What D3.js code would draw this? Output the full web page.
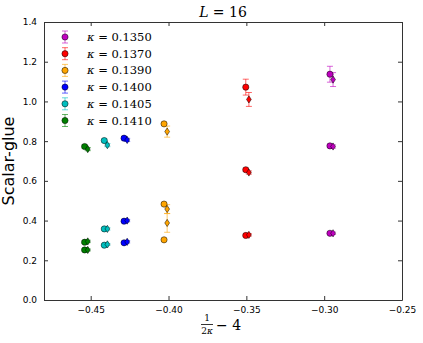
<!DOCTYPE html>
<html>
<head>
<meta charset="utf-8">
<script src="https://cdn.jsdelivr.net/npm/d3@7"></script>
<style>
  body { margin: 0; background: #fff; }
  svg { display: block; }
  text { font-family: "DejaVu Sans", sans-serif; }
  text.math, .math text { font-family: "DejaVu Serif", "Liberation Serif", serif; }
</style>
</head>
<body>
<div id="chart"></div>
<script>
// kappa values and their colours
const kappas = [0.1350, 0.1370, 0.1390, 0.1400, 0.1405, 0.1410];
const colors = ["#bf00bf", "#ff0000", "#ffa500", "#0000ff", "#00bfbf", "#008000"];

// circle series (one list per kappa) and its errors
const circleVals = [
    [1.137, 0.776, 0.336],
    [1.072, 0.656, 0.325],
    [0.887, 0.483, 0.303],
    [0.815, 0.397, 0.288],
    [0.803, 0.358, 0.276],
    [0.773, 0.291, 0.252],
];
const circleErrs = [
    [0.040, 0.008, 0.006],
    [0.040, 0.008, 0.006],
    [0.008, 0.008, 0.005],
    [0.008, 0.006, 0.006],
    [0.008, 0.006, 0.005],
    [0.008, 0.006, 0.005],
];

// diamond series, drawn slightly to the right
const diamondVals = [
    [1.110, 0.773, 0.336],
    [1.010, 0.642, 0.328],
    [0.848, 0.458, 0.388],
    [0.806, 0.400, 0.293],
    [0.780, 0.358, 0.280],
    [0.760, 0.295, 0.252],
];
const diamondErrs = [
    [0.035, 0.008, 0.006],
    [0.035, 0.008, 0.006],
    [0.028, 0.022, 0.047],
    [0.008, 0.006, 0.006],
    [0.008, 0.006, 0.005],
    [0.008, 0.006, 0.005],
];
const diamondShift = 0.002;

const xTicks = [-0.45, -0.40, -0.35, -0.30, -0.25];
const yTicks = [0.0, 0.2, 0.4, 0.6, 0.8, 1.0, 1.2, 1.4];

const W = 423, H = 343;
const margin = { left: 44, right: 21, top: 22, bottom: 43 };

const svg = d3.select("#chart").append("svg").attr("width", W).attr("height", H);

const x = d3.scaleLinear().domain([-0.48, -0.25]).range([margin.left, W - margin.right]);
const y = d3.scaleLinear().domain([0, 1.4]).range([H - margin.bottom, margin.top]);

const xOf = (k) => 1 / (2 * k) - 4;
const fmt = (d) => (d < 0 ? "\u2212" : "") + Math.abs(d).toFixed(2);

// axes, matplotlib classic: ticks inside on all four sides
const axisColor = "#333";
const bottomAxis = svg.append("g").attr("transform", `translate(0,${H - margin.bottom})`)
    .call(d3.axisBottom(x).tickValues(xTicks).tickSizeInner(-4).tickSizeOuter(0).tickPadding(7).tickFormat(fmt));
const topAxis = svg.append("g").attr("transform", `translate(0,${margin.top})`)
    .call(d3.axisTop(x).tickValues(xTicks).tickSizeInner(-4).tickSizeOuter(0).tickFormat(""));
const leftAxis = svg.append("g").attr("transform", `translate(${margin.left},0)`)
    .call(d3.axisLeft(y).tickValues(yTicks).tickSizeInner(-4).tickSizeOuter(0).tickPadding(7).tickFormat(d3.format(".1f")));
const rightAxis = svg.append("g").attr("transform", `translate(${W - margin.right},0)`)
    .call(d3.axisRight(y).tickValues(yTicks).tickSizeInner(-4).tickSizeOuter(0).tickFormat(""));

[bottomAxis, topAxis, leftAxis, rightAxis].forEach((g) => {
    g.select(".domain").attr("stroke", axisColor).attr("stroke-width", 1);
    g.selectAll(".tick line").attr("stroke", axisColor);
    g.selectAll(".tick text").attr("fill", "#000").style("font-size", "9px");
});

// title
svg.append("text").attr("class", "math")
    .attr("x", (margin.left + W - margin.right) / 2).attr("y", 17)
    .attr("text-anchor", "middle").style("font-size", "14px")
    .html('<tspan font-style="italic">L</tspan> = 16');

// y label
svg.append("text")
    .attr("transform", `translate(14,${(margin.top + H - margin.bottom) / 2}) rotate(-90)`)
    .attr("text-anchor", "middle").style("font-size", "16px")
    .text("Scalar-glue");

// x label: 1/(2k) - 4
const xl = svg.append("g").attr("class", "math").attr("transform", "translate(207,0)");
xl.append("text").attr("x", 0).attr("y", 321).attr("text-anchor", "middle").style("font-size", "9px").text("1");
xl.append("line").attr("x1", -6).attr("x2", 6).attr("y1", 324.5).attr("y2", 324.5).attr("stroke", "#000").attr("stroke-width", 0.8);
xl.append("text").attr("x", 0).attr("y", 334).attr("text-anchor", "middle").style("font-size", "9px")
    .html('2<tspan font-style="italic">κ</tspan>');
xl.append("text").attr("x", 9).attr("y", 330).style("font-size", "14px").text("\u2212 4");

// error bar + marker helpers
function errBar(g, cx, v, e, color) {
    const y0 = y(v - e), y1 = y(v + e);
    g.append("line").attr("x1", cx).attr("x2", cx).attr("y1", y0).attr("y2", y1)
        .attr("stroke", color).attr("stroke-opacity", 0.6).attr("stroke-width", 1);
    [y0, y1].forEach((yy) => g.append("line").attr("x1", cx - 3).attr("x2", cx + 3).attr("y1", yy).attr("y2", yy)
        .attr("stroke", color).attr("stroke-opacity", 0.6).attr("stroke-width", 1));
}

const diamondPath = (cx, cy) => `M${cx},${cy - 3.6}L${cx + 2.4},${cy}L${cx},${cy + 3.6}L${cx - 2.4},${cy}Z`;

const plot = svg.append("g");
kappas.forEach((k, i) => {
    const g = plot.append("g");
    const xc = x(xOf(k)), xd = x(xOf(k) + diamondShift);
    circleVals[i].forEach((v, j) => errBar(g, xc, v, circleErrs[i][j], colors[i]));
    diamondVals[i].forEach((v, j) => errBar(g, xd, v, diamondErrs[i][j], colors[i]));
    circleVals[i].forEach((v) => g.append("circle").attr("cx", xc).attr("cy", y(v)).attr("r", 3.1)
        .attr("fill", colors[i]).attr("stroke", "#000").attr("stroke-width", 0.5));
    diamondVals[i].forEach((v) => g.append("path").attr("d", diamondPath(xd, y(v)))
        .attr("fill", colors[i]).attr("stroke", "#000").attr("stroke-width", 0.5));
});

// legend
const legend = svg.append("g");
kappas.forEach((k, i) => {
    const ly = 37 + i * 16.7, lx = 65;
    legend.append("line").attr("x1", lx).attr("x2", lx).attr("y1", ly - 6).attr("y2", ly + 6)
        .attr("stroke", colors[i]).attr("stroke-opacity", 0.6);
    [ly - 6, ly + 6].forEach((yy) => legend.append("line").attr("x1", lx - 3).attr("x2", lx + 3)
        .attr("y1", yy).attr("y2", yy).attr("stroke", colors[i]).attr("stroke-opacity", 0.6));
    legend.append("circle").attr("cx", lx).attr("cy", ly).attr("r", 3.1)
        .attr("fill", colors[i]).attr("stroke", "#000").attr("stroke-width", 0.5);
    legend.append("text").attr("class", "math").attr("x", 87).attr("y", ly + 4).style("font-size", "11.5px")
        .html(`<tspan font-style="italic">κ</tspan> = ${k.toFixed(4)}`);
});
</script>
</body>
</html>
